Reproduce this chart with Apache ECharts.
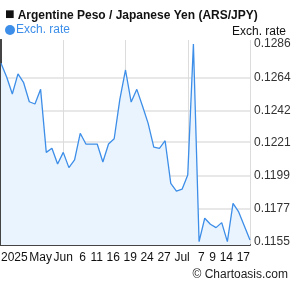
<!DOCTYPE html>
<html>
<head>
<meta charset="utf-8">
<script src="https://cdn.jsdelivr.net/npm/echarts@6/dist/echarts.min.js"></script>
<style>
body { margin: 0; }
#chart { width: 295px; height: 288px; }
</style>
</head>
<body>
<div id="chart"></div>
<script>
// daily ARS/JPY, 16 May - 17 Jul 2025
const dates = [
  '2025-05-16',
  '2025-05-19', '2025-05-20', '2025-05-21', '2025-05-22', '2025-05-23',
  '2025-05-26', '2025-05-27', '2025-05-28', '2025-05-29', '2025-05-30',
  '2025-06-02', '2025-06-03', '2025-06-04', '2025-06-05', '2025-06-06',
  '2025-06-09', '2025-06-10', '2025-06-11', '2025-06-12', '2025-06-13',
  '2025-06-16', '2025-06-17', '2025-06-18', '2025-06-19', '2025-06-20',
  '2025-06-23', '2025-06-24', '2025-06-25', '2025-06-26', '2025-06-27',
  '2025-06-30', '2025-07-01', '2025-07-02', '2025-07-03', '2025-07-04',
  '2025-07-07', '2025-07-08', '2025-07-09', '2025-07-10', '2025-07-11',
  '2025-07-14', '2025-07-15', '2025-07-16', '2025-07-17'
]
const rates = [
  0.12732,
  0.12642, 0.12529, 0.12662, 0.12604, 0.12478,
  0.12463, 0.12560, 0.12143, 0.12170, 0.12066,
  0.12143, 0.12042, 0.12093, 0.12269, 0.12198,
  0.12198, 0.12198, 0.12079, 0.12198, 0.12233,
  0.12494, 0.12688, 0.12476, 0.12560, 0.12450,
  0.12335, 0.12177, 0.12170, 0.12220, 0.11938,
  0.11887, 0.11899, 0.11993, 0.12860, 0.11552,
  0.11707, 0.11667, 0.11645, 0.11678, 0.11552,
  0.11806, 0.11749, 0.11656, 0.11563
]
const yTicks = [0.1155, 0.1177, 0.1199, 0.1221, 0.1242, 0.1264, 0.1286]
const yearLabels = { '2025-05-16': '2025' }
const monthLabels = { '2025-05-27': 'May', '2025-06-02': 'Jun', '2025-07-01': 'Jul' }
const dayLabels = [
  '2025-06-06', '2025-06-11', '2025-06-16', '2025-06-19', '2025-06-24',
  '2025-06-27', '2025-07-07', '2025-07-09', '2025-07-14', '2025-07-17'
]

const font = "'Liberation Sans', Arial, sans-serif"
const blue = '#3d8ee8'
const axisDark = '#444'
const gridGray = '#dcdcdc'
const yMin = 0.11530
const yMax = 0.128865

function labelAxis(pick, text, align) {
  return {
    type: 'category',
    data: dates,
    boundaryGap: false,
    position: 'bottom',
    offset: 0,
    axisLine: { show: false },
    axisTick: { show: false },
    splitLine: { show: false },
    axisLabel: {
      interval: (i, v) => pick(v),
      formatter: text,
      align: align,
      margin: 7,
      hideOverlap: false,
      color: '#111',
      fontFamily: font,
      fontSize: 12
    }
  }
}

const chart = echarts.init(document.getElementById('chart'))
chart.setOption({
  animation: false,
  textStyle: { fontFamily: font },
  title: [
    {
      text: '{sq|\u25A0}Argentine Peso / Japanese Yen (ARS/JPY)',
      left: 0, top: 4,
      textStyle: {
        fontFamily: font, fontSize: 12, fontWeight: 'bold', color: '#111', lineHeight: 14,
        rich: { sq: { fontSize: 16, lineHeight: 14, color: '#111', padding: [0, 3, 2, 0] } }
      }
    },
    {
      text: 'Exch. rate',
      right: 4, top: 21,
      textStyle: { fontFamily: font, fontSize: 12, fontWeight: 'normal', color: '#111' }
    },
    {
      text: '\u00A9 Chartoasis.com',
      right: 2, bottom: 2,
      textStyle: { fontFamily: font, fontSize: 12, fontWeight: 'normal', color: '#222' }
    }
  ],
  legend: {
    data: ['Exch. rate'],
    left: 0, top: 19,
    icon: 'circle',
    itemWidth: 10, itemHeight: 10, itemGap: 2,
    textStyle: { color: blue, fontFamily: font, fontSize: 12, padding: [0, 0, 0, -4] }
  },
  grid: { left: 1, right: 45, top: 40, bottom: 43, containLabel: false, outerBoundsMode: 'none' },
  xAxis: [
    {
      type: 'category',
      data: dates,
      boundaryGap: false,
      axisLine: { show: true, lineStyle: { color: axisDark, width: 2 } },
      axisTick: { show: false },
      axisLabel: { show: false },
      splitLine: { show: false }
    },
    labelAxis(v => v in yearLabels, v => yearLabels[v] || '', 'left'),
    labelAxis(v => v in monthLabels, v => monthLabels[v] || '', 'center'),
    labelAxis(v => dayLabels.includes(v), v => String(+v.slice(8)), 'right'),
    {
      type: 'value', min: 0, max: 4, interval: 1,
      axisLine: { show: false }, axisTick: { show: false }, axisLabel: { show: false },
      splitLine: { show: true, lineStyle: { color: gridGray } }
    }
  ],
  yAxis: [
    {
      type: 'value',
      position: 'right',
      min: yMin, max: yMax,
      axisLine: { show: true, lineStyle: { color: axisDark, width: 2 } },
      // grid lines between the outer ticks only
      axisTick: { show: false, customValues: yTicks.slice(1, -1) },
      splitLine: { show: true, lineStyle: { color: '#e8e8e8', width: 2 } },
      axisLabel: {
        customValues: yTicks,
        formatter: v => v.toFixed(4),
        margin: 4,
        color: '#333',
        fontFamily: font,
        fontSize: 12
      }
    },
    {
      type: 'value',
      position: 'left',
      min: yMin, max: yMax,
      axisLine: { show: true, lineStyle: { color: axisDark, width: 2 } },
      axisTick: { show: false },
      axisLabel: { show: false },
      splitLine: { show: false }
    }
  ],
  series: [
    {
      name: 'Exch. rate',
      type: 'line',
      data: rates,
      symbol: 'none',
      color: blue,
      lineStyle: { width: 1.3, color: blue },
      areaStyle: { color: '#eaf4fe', opacity: 1 }
    }
  ]
})
</script>
</body>
</html>
